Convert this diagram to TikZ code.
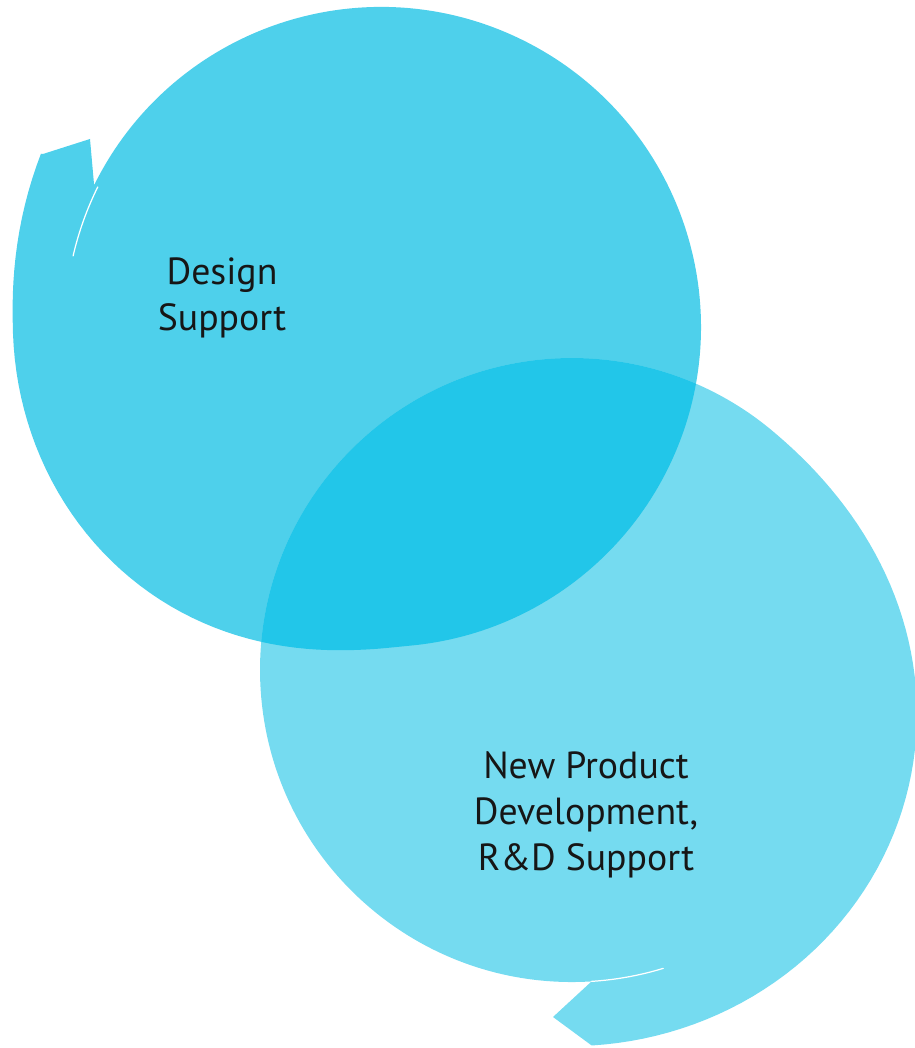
\documentclass[tikz,border=0pt]{standalone}
\usepackage{fontspec}
\setmainfont{PT Sans}
\definecolor{topc}{RGB}{78,208,235}
\definecolor{botc}{RGB}{117,219,240}
\definecolor{ovc}{RGB}{34,198,233}
\definecolor{textc}{RGB}{22,22,22}
\begin{document}
\begin{tikzpicture}[x=0.02cm,y=0.02cm,
  lbl/.style={font=\fontsize{21.5}{26.3}\selectfont, align=center, text=textc, inner sep=0pt},
  crack/.style={white, line width=0.7pt, line cap=round}]
\useasboundingbox (0,0) rectangle (914,1048);
\def\topshape{(43,894) -- (90,909) -- (94.1,862.8) arc[start angle=153.7,end angle=-84,radius=320]
  \foreach \a [evaluate=\a as \rr using {320+50*(1-exp(-pow(max(275-\a,0.01)/45,1.6)))+12*pow(max((180-\a)/27,0.0001),1.5)}] in {275,273,...,153} { -- ([shift={(381,721)}]\a:\rr) } -- cycle}
\def\botshape{(553,31) -- (591.6,66.6) arc[start angle=-86.4,end angle=-311,radius=312]
  \foreach \a [evaluate=\a as \rr using {312+65*(1-exp(-pow(max(50-\a,0.01)/64.5,1.9)))}] in {49,47,...,-87} { -- ([shift={(572,378)}]\a:\rr) } -- cycle}
\fill[topc] \topshape;
\fill[botc] \botshape;
\begin{scope}
  \clip \topshape;
  \fill[ovc] \botshape;
\end{scope}
% seams of the spirals
\draw[crack] ([shift={(381,721)}]153.7:316) arc[start angle=153.7,end angle=167,radius=316];
\draw[crack] ([shift={(572,378)}]-86.4:312) arc[start angle=-86.4,end angle=-73,radius=312];
\node[lbl] (design) at (222,750) {Design\\Support};
\node[lbl] (npd) at (586,233) {New Product\\Development,\\R\&D Support};
\end{tikzpicture}
\end{document}
